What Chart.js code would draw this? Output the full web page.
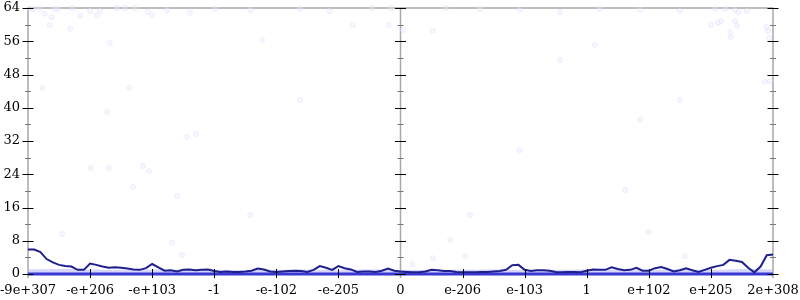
<!DOCTYPE html>
<html>
<head>
<meta charset="utf-8">
<script src="https://cdn.jsdelivr.net/npm/chart.js@4/dist/chart.umd.min.js"></script>
<style>
  html, body { margin: 0; padding: 0; background: #fff; }
  #wrap { width: 800px; height: 300px; }
</style>
</head>
<body>
<div id="wrap"><canvas id="chart"></canvas></div>
<script>
// tick labels of the x axis (one per unit, -6 .. 6)
const xTickLabels = ["-9e+307", "-e+206", "-e+103", "-1", "-e-102", "-e-205", "0",
                     "e-206", "e-103", "1", "e+102", "e+205", "2e+308"];

// main line, one value every 0.1 unit from -6 to 6
const lineValues = [
  5.9, 5.9, 5.3, 3.6, 2.8, 2.2, 1.9, 1.8, 1.0, 1.0,
  2.5, 2.2, 1.8, 1.5, 1.6, 1.5, 1.3, 1.1, 1.0, 1.4,
  2.4, 1.6, 0.8, 0.9, 0.6, 1.0, 1.1, 0.9, 1.0, 1.1,
  0.7, 0.5, 0.6, 0.5, 0.5, 0.6, 0.8, 1.3, 1.1, 0.6,
  0.5, 0.6, 0.7, 0.8, 0.7, 0.5, 1.0, 1.9, 1.5, 1.0,
  1.9, 1.4, 1.1, 0.5, 0.6, 0.6, 0.5, 0.8, 1.3, 0.8,
  0.6, 0.5, 0.4, 0.4, 0.6, 1.0, 0.9, 0.7, 0.7, 0.5,
  0.4, 0.4, 0.4, 0.5, 0.5, 0.6, 0.7, 1.0, 2.1, 2.2,
  1.0, 0.7, 0.9, 0.9, 0.8, 0.5, 0.4, 0.5, 0.5, 0.4,
  0.8, 1.1, 1.0, 1.0, 1.6, 1.2, 0.9, 1.0, 1.5, 0.8,
  0.8, 1.4, 1.7, 1.2, 0.6, 0.9, 1.4, 0.9, 0.5, 1.0,
  1.5, 1.9, 2.2, 3.4, 3.2, 2.9, 1.5, 0.4, 1.8, 4.5,
  4.7
];

// pale band of dense points near zero, one value every 0.5 unit
const bandValues = [
  1.1, 1.2, 1.1, 1.0, 1.1, 1.0, 1.0, 0.9, 1.0, 1.1, 1.0, 1.1, 1.0,
  0.9, 1.0, 1.1, 1.0, 1.0, 1.1, 1.0, 1.0, 1.1, 1.0, 1.2, 1.1
];

// sparse faint points
const dotX = [
  -5.97, -5.92, -5.81, -5.73, -5.62, -5.65, -5.57, -5.52, -5.32, -5.29,
  -5.16, -5.00, -4.89, -4.84, -4.68, -4.57, -4.44, -4.28, -4.07, -4.00,
  -3.76, -3.39, -4.37, -5.77, -4.73, -3.44, -3.29, -4.99, -4.70, -4.15,
  -4.05, -4.31, -3.60, -0.46, -0.15, -0.77, -0.19, 0.04, 0.52, 0.73,
  5.07, 5.23, 5.39, 5.44, 5.58, 5.00, 5.11, 5.16, 5.39, 5.42,
  5.31, 5.32, 5.89, 5.92, 5.94, 5.87, 5.95, -5.45, -3.68, -3.52,
  0.80, 0.52, 1.04, 0.19, 3.99, 4.58, -2.99, -2.42, -1.62, -1.14,
  1.28, 1.92, 2.57, 3.21, 3.86, 4.50, -2.23, -1.62, 3.13, 3.86,
  4.50, 2.57, 3.62, -2.42, 1.92, 1.12
];
const dotY = [
  63.8, 63.8, 63.8, 62.6, 61.8, 59.9, 63.8, 63.8, 59.0, 64.0,
  62.1, 63.3, 62.3, 63.3, 55.6, 64.0, 64.0, 64.0, 63.0, 62.3,
  63.5, 62.8, 44.8, 44.8, 39.0, 33.0, 33.7, 25.5, 25.5, 26.0,
  24.8, 20.9, 18.8, 64.0, 64.0, 59.9, 59.9, 58.7, 58.5, 64.0,
  63.8, 63.8, 63.5, 63.0, 63.3, 59.9, 60.4, 60.9, 60.9, 59.7,
  58.2, 57.0, 59.4, 58.5, 56.8, 46.2, 46.4, 9.6, 7.5, 4.6,
  8.2, 3.8, 4.3, 2.4, 10.1, 4.3, 63.8, 63.5, 63.8, 63.3,
  63.8, 63.5, 63.0, 63.8, 63.5, 63.3, 56.3, 41.9, 55.1, 37.1,
  41.9, 51.5, 20.2, 14.2, 29.8, 14.2
];

const font = { family: "'DejaVu Serif', serif", size: 13 };

// axis frame, cross ticks and the middle axis
const framePlugin = {
  id: "frame",
  beforeDatasetsDraw(chart) {
    const { ctx, chartArea: a, scales: { x } } = chart;
    const mid = x.getPixelForValue(0);
    ctx.save();
    ctx.strokeStyle = "#a8a8a8";
    ctx.lineWidth = 1.5;
    ctx.beginPath();
    ctx.moveTo(a.left, a.bottom + 4);
    ctx.lineTo(a.left, a.top);
    ctx.lineTo(a.right, a.top);
    ctx.lineTo(a.right, a.bottom + 4);
    ctx.moveTo(mid, a.top);
    ctx.lineTo(mid, a.bottom + 4);
    ctx.stroke();
    ctx.restore();
  },
  afterDatasetsDraw(chart) {
    const { ctx, chartArea: a, scales: { x, y } } = chart;
    const axes = [a.left, x.getPixelForValue(0), a.right];
    ctx.save();
    ctx.lineWidth = 1;
    for (let v = 0; v <= 64; v += 4) {
      const py = Math.round(y.getPixelForValue(v)) + 0.5;
      const major = v % 8 === 0;
      const half = major ? 5.5 : 3;
      ctx.strokeStyle = major ? "#000" : "#777";
      ctx.beginPath();
      axes.forEach(px => {
        ctx.moveTo(px - half, py);
        ctx.lineTo(px + half, py);
      });
      ctx.stroke();
    }
    ctx.strokeStyle = "#000";
    ctx.beginPath();
    for (let u = -5; u <= 5; u++) {
      if (u === 0) continue;
      const px = Math.round(x.getPixelForValue(u)) + 0.5;
      ctx.moveTo(px, a.bottom - 5);
      ctx.lineTo(px, a.bottom + 4);
    }
    ctx.stroke();
    ctx.restore();
  }
};

new Chart(document.getElementById("chart"), {
  type: "scatter",
  data: {
    datasets: [
      {
        type: "line",
        data: lineValues.map((v, i) => ({ x: -6 + i / 10, y: v })),
        borderColor: "#1f1f8e",
        borderWidth: 2,
        pointRadius: 0,
        tension: 0,
        clip: false,
        order: 1
      },
      {
        type: "line",
        data: [{ x: -6, y: 0 }, { x: 6, y: 0 }],
        borderColor: "#3838d4",
        borderWidth: 3,
        pointRadius: 0,
        clip: false,
        order: 2
      },
      {
        type: "line",
        data: bandValues.map((v, i) => ({ x: -6 + i / 2, y: v })),
        borderWidth: 0,
        borderColor: "rgba(0,0,0,0)",
        backgroundColor: "rgba(180,180,250,0.55)",
        fill: "origin",
        pointRadius: 0,
        tension: 0.3,
        order: 3
      },
      {
        data: dotX.map((v, i) => ({ x: v, y: dotY[i] })),
        pointRadius: 2.5,
        pointBackgroundColor: "rgba(235,235,255,0.4)",
        pointBorderColor: "rgba(220,220,255,0.45)",
        pointBorderWidth: 1,
        clip: false,
        order: 4
      }
    ]
  },
  options: {
    responsive: true,
    maintainAspectRatio: false,
    animation: false,
    layout: { padding: { top: 8, right: 27, left: 0, bottom: 0 } },
    plugins: { legend: { display: false }, tooltip: { enabled: false } },
    scales: {
      x: {
        type: "linear",
        min: -6,
        max: 6,
        grid: { display: false, drawTicks: false },
        border: { display: false },
        ticks: {
          stepSize: 1,
          autoSkip: false,
          maxRotation: 0,
          padding: 9,
          color: "#000",
          font: font,
          callback: v => xTickLabels[Math.round(v) + 6]
        },
        afterFit(scale) {
          scale.height = 26;
          scale.paddingLeft = 0;
          scale.paddingRight = 0;
        }
      },
      y: {
        min: 0,
        max: 64,
        grid: { display: false, drawTicks: false },
        border: { display: false },
        ticks: { stepSize: 8, padding: 8, color: "#000", font: font },
        afterFit(scale) {
          scale.width = 28;
          scale.paddingTop = 0;
          scale.paddingBottom = 0;
        }
      }
    }
  },
  plugins: [framePlugin]
});
</script>
</body>
</html>
